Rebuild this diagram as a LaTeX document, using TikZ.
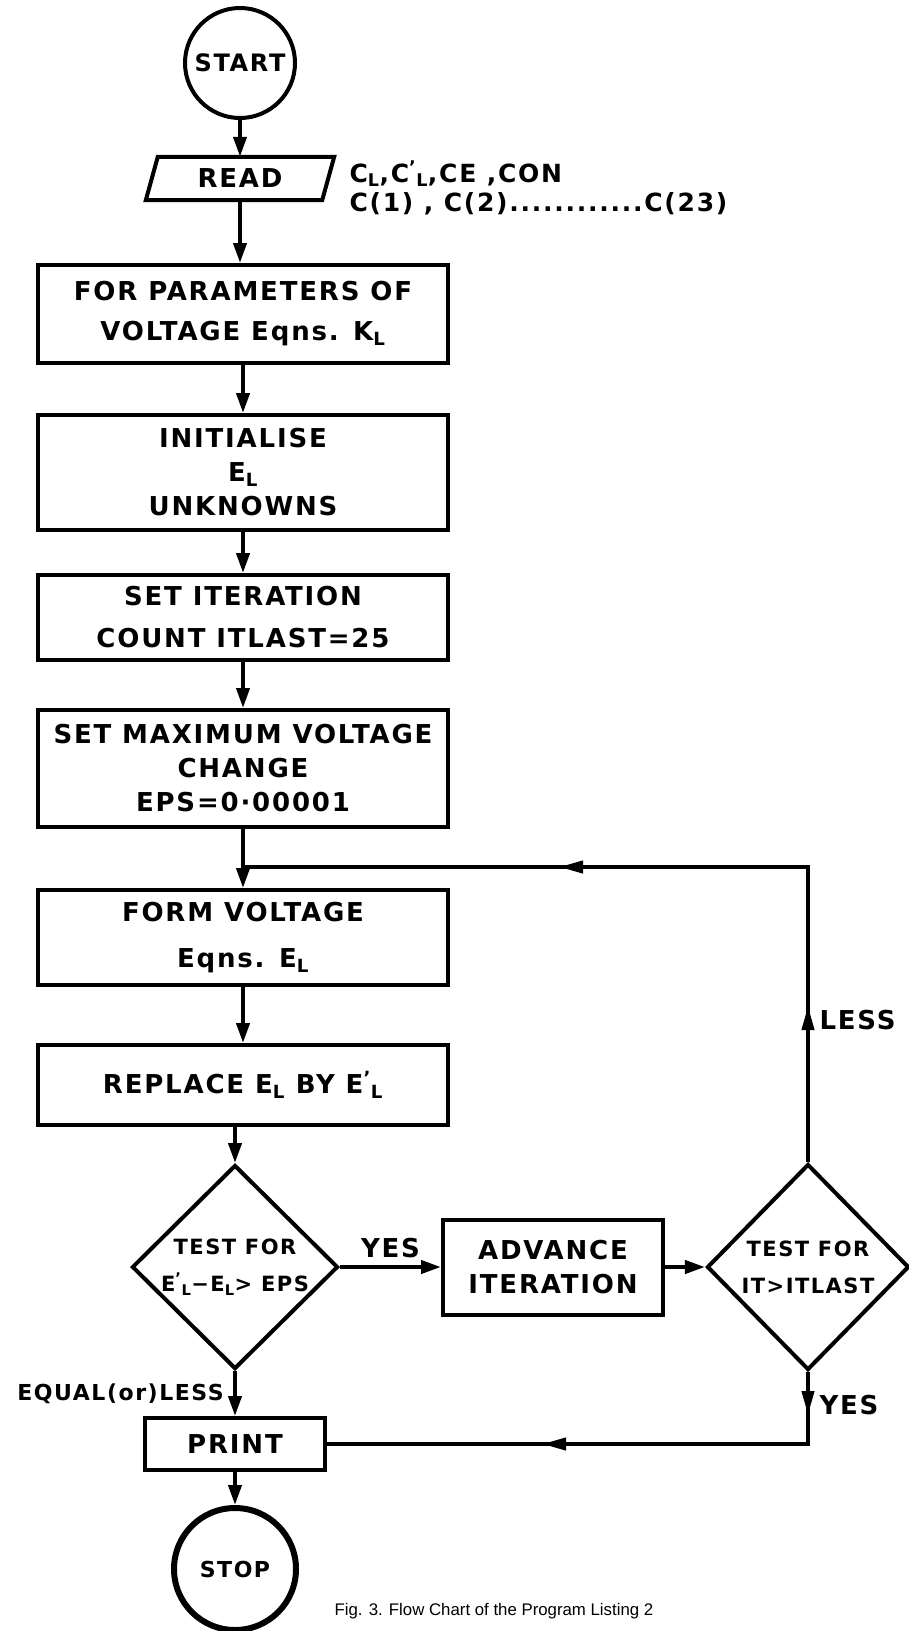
\documentclass[tikz,border=0pt]{standalone}
\usepackage{fontspec}
\setmainfont{DejaVu Sans}[LetterSpace=7]
\newfontfamily\capfont{Liberation Sans}
\usetikzlibrary{positioning, arrows.meta, shapes.geometric, decorations.markings}

\newcommand{\subsup}[2]{\textsuperscript{#2}\textsubscript{#1}}

\tikzset{
  midarrow/.style={postaction={decorate,decoration={markings,
    mark=at position #1 with {\arrow{Triangle[length=24pt,width=12pt]}}}}},
}

\begin{document}
\begin{tikzpicture}[x=1pt,y=-1pt,>={Triangle[length=20pt,width=13pt]},
  ln/.style={line width=4pt},
  txt/.style={font=\fontsize{26}{34}\selectfont\bfseries},
  proc/.style={ln,txt,draw,rectangle,minimum width=410pt,align=center,inner sep=2pt},
  term/.style={ln,draw,circle,inner sep=0pt,font=\fontsize{24}{30}\selectfont\bfseries},
  decision/.style={ln,draw,diamond,inner sep=0pt},
  dtext/.style={font=\fontsize{21}{37}\selectfont\bfseries,align=center},
  lbl/.style={font=\fontsize{26}{30}\selectfont\bfseries},
  flow/.style={ln,->},
]
  \useasboundingbox (0,0) rectangle (909,1631);

  % start and input
  \node[term,minimum size=110pt] (start) at (240,63) {START};
  \node[txt,minimum width=176pt,minimum height=43pt,inner sep=0pt] (read) at (240,178.5) {READ};
  \draw[ln] ([xshift=6pt]read.north west) -- ([xshift=6pt]read.north east)
        -- ([xshift=-6pt]read.south east) -- ([xshift=-6pt]read.south west) -- cycle;
  \node[txt,font=\fontsize{25}{29}\selectfont\bfseries,anchor=west,align=left] (rdvars) at (346,188)
       {C\textsubscript{L},C\subsup{L}{'},CE ,CON\\C(1) , C(2)............C(23)};

  % main column
  \node[proc,minimum height=98pt]  (params) at (243,314)   {FOR PARAMETERS OF\\[6pt]VOLTAGE Eqns. K\textsubscript{L}};
  \node[proc,minimum height=115pt] (init)   at (243,472.5) {INITIALISE\\E\textsubscript{L}\\UNKNOWNS};
  \node[proc,minimum height=85pt]  (iter)   at (243,617.5) {SET ITERATION\\[8pt]COUNT ITLAST=25};
  \node[proc,minimum height=117pt] (maxv)   at (243,768.5) {SET MAXIMUM VOLTAGE\\CHANGE\\EPS=0·00001};
  \node[proc,minimum height=95pt]  (form)   at (243,937.5) {FORM VOLTAGE\\[12pt]Eqns. E\textsubscript{L}};
  \node[proc,minimum height=80pt]  (repl)   at (243,1085)  {REPLACE E\textsubscript{L} BY E\subsup{L}{'}};

  % tests
  \node[decision,minimum width=206pt,minimum height=204pt,
        label={[dtext]center:{TEST FOR\\E\subsup{L}{'}−E\textsubscript{L}> EPS}}] (test1) at (235,1267) {};
  \node[proc,minimum width=220pt,minimum height=95pt] (adv) at (553,1267) {ADVANCE\\ITERATION};
  \node[decision,minimum width=202pt,minimum height=206pt,
        label={[dtext]center:{TEST FOR\\IT>ITLAST}}] (test2) at (808,1267) {};

  % output and end
  \node[proc,minimum width=180pt,minimum height=52pt] (print) at (235,1444) {PRINT};
  \node[term,minimum size=122pt,line width=6pt,font=\fontsize{22}{26}\selectfont\bfseries] (stop) at (235,1569) {STOP};

  \coordinate (join) at (243,867);

  \draw[flow] (start) -- (read);
  \draw[flow] (read) -- (read |- params.north);
  \draw[flow] (params) -- (init);
  \draw[flow] (init) -- (iter);
  \draw[flow] (iter) -- (maxv);
  \draw[flow] (maxv) -- (form);
  \draw[flow] (form) -- (repl);
  \draw[flow] (repl.south -| test1.north) -- (test1);
  \draw[flow] (test1) -- node[lbl,above=4pt] {YES} (adv);
  \draw[flow] (adv) -- (test2);
  \draw[flow] (test1) -- node[lbl,left=6pt,font=\fontsize{22}{26}\selectfont\bfseries] {EQUAL(or)LESS} (print);
  \draw[flow] (print) -- (stop);

  % loop back and exit
  \draw[ln,midarrow=156pt,midarrow=544pt] (test2.north) |- (join);
  \draw[ln,midarrow=43pt,midarrow=338pt] (test2.south) |- (print.east);
  \node[lbl,anchor=west] (less) at (816,1020) {LESS};
  \node[lbl,anchor=west] (yes2) at (816,1405) {YES};

  \node[font=\fontsize{16.8}{19}\capfont,anchor=base west] (cap) at (331,1615)
       {Fig. 3. Flow Chart of the Program Listing 2};
\end{tikzpicture}
\end{document}
